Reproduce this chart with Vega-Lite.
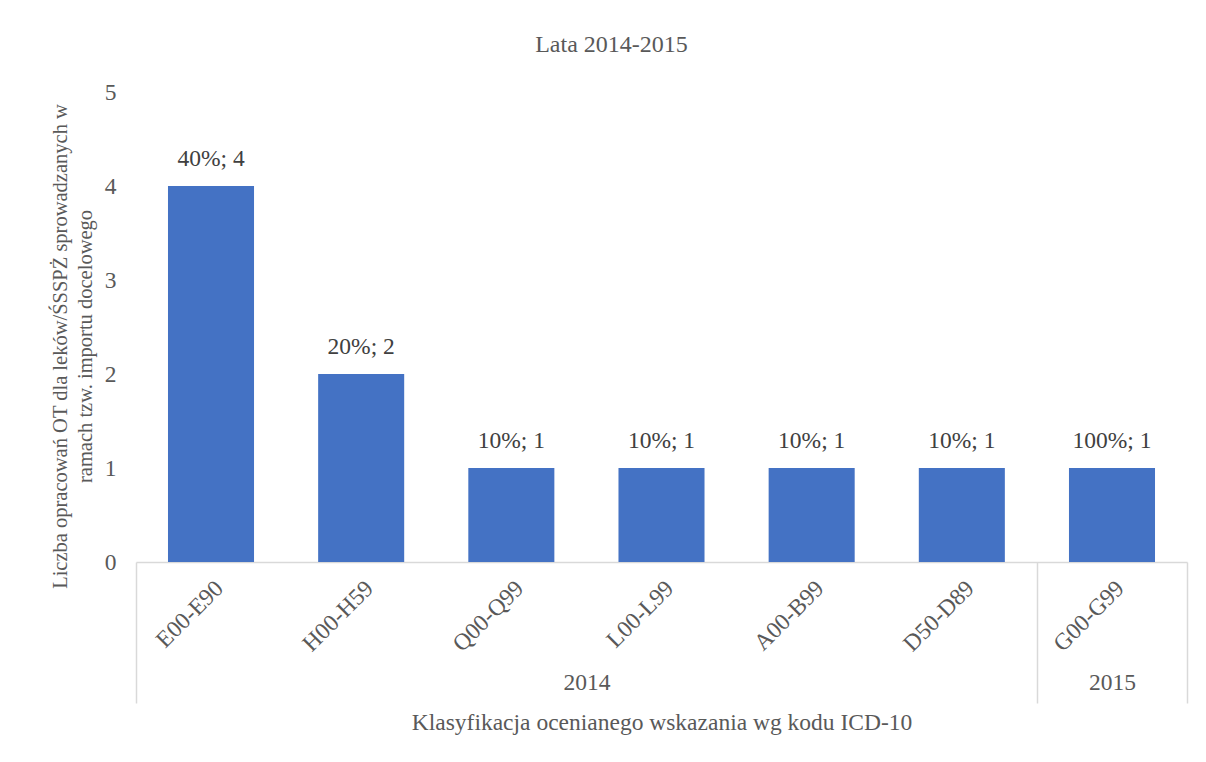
{
  "$schema": "https://vega.github.io/schema/vega-lite/v6.json",
  "width": 1051,
  "height": 470,
  "autosize": {"type": "none"},
  "padding": {"left": 136, "top": 92, "right": 19, "bottom": 200},
  "background": "white",
  "title": {
    "text": "Lata 2014-2015",
    "font": "Liberation Serif",
    "fontSize": 24,
    "fontWeight": "normal",
    "color": "#595959",
    "offset": 23,
    "dx": -50
  },
  "config": {
    "view": {"stroke": null},
    "font": "Liberation Serif"
  },
  "layer": [
    {
      "data": {
        "values": [
          {"code": "E00-E90", "year": "2014", "value": 4, "label": "40%; 4"},
          {"code": "H00-H59", "year": "2014", "value": 2, "label": "20%; 2"},
          {"code": "Q00-Q99", "year": "2014", "value": 1, "label": "10%; 1"},
          {"code": "L00-L99", "year": "2014", "value": 1, "label": "10%; 1"},
          {"code": "A00-B99", "year": "2014", "value": 1, "label": "10%; 1"},
          {"code": "D50-D89", "year": "2014", "value": 1, "label": "10%; 1"},
          {"code": "G00-G99", "year": "2015", "value": 1, "label": "100%; 1"}
        ]
      },
      "encoding": {
        "x": {
          "field": "code",
          "type": "nominal",
          "sort": null,
          "scale": {"paddingInner": 0.427, "paddingOuter": 0.213},
          "axis": {
            "title": null,
            "orient": "bottom",
            "labelAngle": -45,
            "labelFont": "Liberation Serif",
            "labelFontSize": 23.5,
            "labelColor": "#595959",
            "labelPadding": 14,
            "ticks": false,
            "domain": true,
            "domainColor": "#d9d9d9",
            "domainWidth": 1.5
          }
        },
        "y": {
          "field": "value",
          "type": "quantitative",
          "scale": {"domain": [0, 5]},
          "axis": {
            "values": [0, 1, 2, 3, 4, 5],
            "title": ["Liczba opracowań OT dla leków/ŚSSPŻ sprowadzanych w", "ramach tzw. importu docelowego"],
            "titleFont": "Liberation Serif",
            "titleFontSize": 20.5,
            "titleFontWeight": "normal",
            "titleColor": "#595959",
            "titlePadding": 9,
            "titleLineHeight": 25,
            "titleY": 254,
            "labelFont": "Liberation Serif",
            "labelFontSize": 23.5,
            "labelColor": "#595959",
            "labelPadding": 20,
            "ticks": false,
            "domain": false,
            "grid": false
          }
        }
      },
      "layer": [
        {"mark": {"type": "bar", "color": "#4472C4"}},
        {
          "mark": {
            "type": "text",
            "baseline": "bottom",
            "dy": -15,
            "font": "Liberation Serif",
            "fontSize": 23.5,
            "color": "#404040"
          },
          "encoding": {"text": {"field": "label"}}
        }
      ]
    },
    {
      "data": {"values": [{"pos": 0}, {"pos": 7}]},
      "mark": {"type": "rule", "strokeOpacity": 0},
      "encoding": {
        "x": {
          "field": "pos",
          "type": "quantitative",
          "scale": {"domain": [0, 7], "nice": false, "zero": false},
          "axis": {
            "orient": "bottom",
            "values": [0, 3, 6, 6.5, 7],
            "domain": false,
            "grid": false,
            "ticks": true,
            "tickColor": "#d9d9d9",
            "tickWidth": 1.5,
            "tickSize": {"condition": {"test": "datum.value == 3 || datum.value == 6.5", "value": 0}, "value": 141},
            "labelExpr": "datum.value == 3 ? '2014' : (datum.value == 6.5 ? '2015' : '')",
            "labelFont": "Liberation Serif",
            "labelFontSize": 23.5,
            "labelColor": "#595959",
            "labelPadding": 108,
            "labelAngle": 0,
            "labelFlush": false,
            "labelOverlap": false,
            "title": "Klasyfikacja ocenianego wskazania wg kodu ICD-10",
            "titleFont": "Liberation Serif",
            "titleFontSize": 23.5,
            "titleFontWeight": "normal",
            "titleColor": "#595959",
            "titlePadding": -52
          }
        }
      }
    }
  ],
  "resolve": {"scale": {"x": "independent"}, "axis": {"x": "independent"}}
}
